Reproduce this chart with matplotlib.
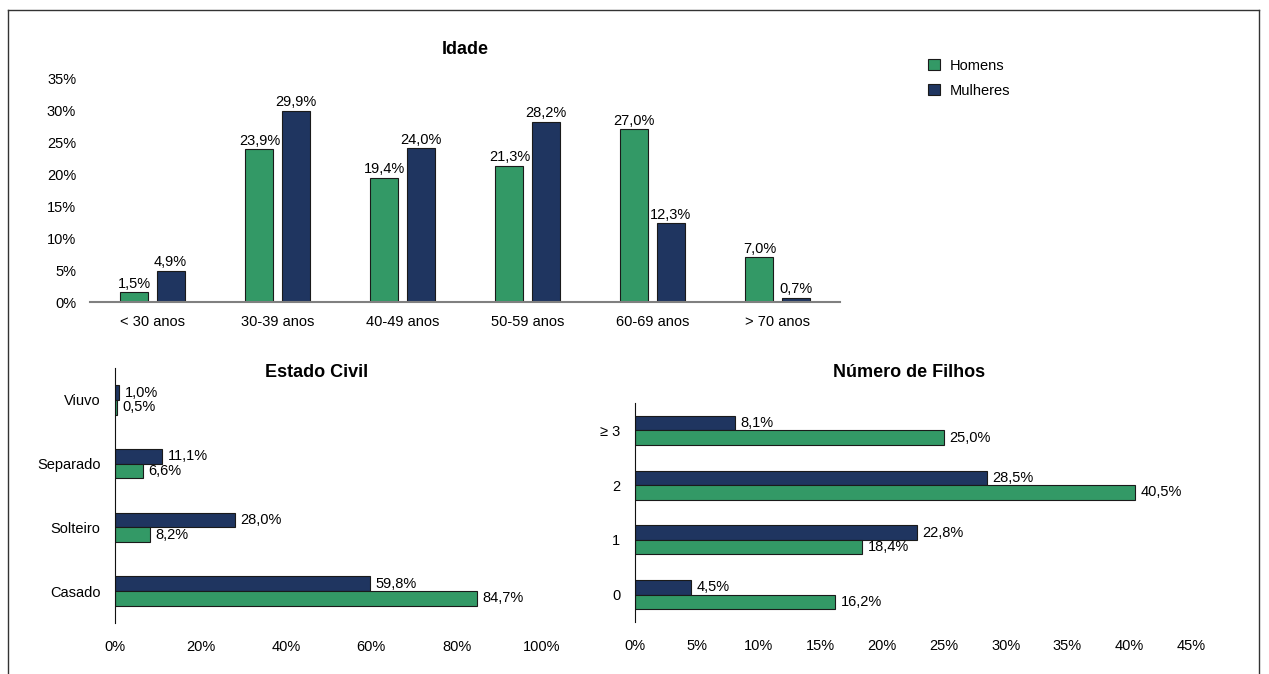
import matplotlib.pyplot as plt
from matplotlib.lines import Line2D
from matplotlib import font_manager

# font: condensed look if available
names = {f.name for f in font_manager.fontManager.ttflist}
if 'Liberation Sans Narrow' in names:
    plt.rcParams['font.family'] = ['Liberation Sans Narrow', 'DejaVu Sans']
else:
    plt.rcParams['font.family'] = ['Liberation Sans', 'DejaVu Sans']
plt.rcParams['font.size'] = 10.5

GREEN = '#339966'
NAVY = '#1f3560'
EDGE = '#1a1a1a'

# data
idade_cats = ['< 30 anos', '30-39 anos', '40-49 anos', '50-59 anos', '60-69 anos', '> 70 anos']
idade_homens = [1.5, 23.9, 19.4, 21.3, 27.0, 7.0]
idade_mulheres = [4.9, 29.9, 24.0, 28.2, 12.3, 0.7]

civil_cats = ['Casado', 'Solteiro', 'Separado', 'Viuvo']
civil_homens = [84.7, 8.2, 6.6, 0.5]
civil_mulheres = [59.8, 28.0, 11.1, 1.0]

filhos_cats = ['0', '1', '2', '≥ 3']
filhos_homens = [16.2, 18.4, 40.5, 25.0]
filhos_mulheres = [4.5, 22.8, 28.5, 8.1]


def fmt(v):
    return f"{v:.1f}%".replace('.', ',')


W, H = 1269, 674
fig = plt.figure(figsize=(W / 100, H / 100), dpi=100)


def px_axes(left, top, right, bottom):
    return fig.add_axes([left / W, 1 - bottom / H, (right - left) / W, (bottom - top) / H])


# outer border (open at the bottom)
for xs, ys in [([8, 8], [0, 10]), ([8, 1259], [10, 10]), ([1259, 1259], [10, 0])]:
    fig.add_artist(Line2D([x / W for x in xs], [1 - y / H if y else 0 for y in ys],
                          color='#333333', lw=1))

# ---- Idade ----
ax1 = px_axes(90, 78, 840, 302)
x = list(range(len(idade_cats)))
bw, off = 0.225, 0.145
b1 = ax1.bar([i - off for i in x], idade_homens, bw, color=GREEN, edgecolor=EDGE, lw=0.8, label='Homens')
b2 = ax1.bar([i + off for i in x], idade_mulheres, bw, color=NAVY, edgecolor=EDGE, lw=0.8, label='Mulheres')
for bars, vals in [(b1, idade_homens), (b2, idade_mulheres)]:
    for b, v in zip(bars, vals):
        ax1.annotate(fmt(v), (b.get_x() + b.get_width() / 2, v), xytext=(0, 1),
                     textcoords='offset points', ha='center', va='bottom')
ax1.set_xlim(-0.5, 5.5)
ax1.set_ylim(0, 35)
ax1.set_yticks(range(0, 36, 5))
ax1.set_yticklabels([f"{t}%" for t in range(0, 36, 5)])
ax1.set_xticks(x)
ax1.set_xticklabels(idade_cats)
for s in ['top', 'right', 'left']:
    ax1.spines[s].set_visible(False)
ax1.spines['bottom'].set_color('#808080')
ax1.spines['bottom'].set_linewidth(1.5)
ax1.tick_params(length=0, axis='both')
ax1.tick_params(axis='x', pad=9)
ax1.tick_params(axis='y', pad=10)
fig.text(465 / W, 1 - 50 / H, 'Idade', ha='center', va='center', fontsize=13, fontweight='bold')
fig.legend(handles=[b1, b2], loc='upper left', bbox_to_anchor=(922 / W, 1 - 53 / H),
           frameon=False, handlelength=0.8, handleheight=0.8, handletextpad=0.7,
           labelspacing=0.75, borderaxespad=0)


# ---- horizontal charts ----
def hchart(box, cats, homens, mulheres, xmax, step, bh, title, tx):
    ax = px_axes(*box)
    y = list(range(len(cats)))
    bm = ax.barh([i + bh / 2 for i in y], mulheres, bh, color=NAVY, edgecolor=EDGE, lw=0.8)
    bg = ax.barh([i - bh / 2 for i in y], homens, bh, color=GREEN, edgecolor=EDGE, lw=0.8)
    for bars, vals in [(bm, mulheres), (bg, homens)]:
        for b, v in zip(bars, vals):
            ax.annotate(fmt(v), (v, b.get_y() + b.get_height() / 2), xytext=(4, 0),
                        textcoords='offset points', ha='left', va='center')
    ax.set_xlim(0, xmax)
    ax.set_ylim(-0.5, len(cats) - 0.5)
    ticks = list(range(0, xmax + 1, step))
    ax.set_xticks(ticks)
    ax.set_xticklabels([f"{t}%" for t in ticks])
    ax.set_yticks(y)
    ax.set_yticklabels(cats)
    for s in ['top', 'right', 'bottom']:
        ax.spines[s].set_visible(False)
    ax.spines['left'].set_color('#111111')
    ax.tick_params(length=0, axis='both')
    ax.tick_params(axis='x', pad=12)
    ax.tick_params(axis='y', pad=10.5)
    fig.text(tx / W, 1 - 373 / H, title, ha='center', va='center', fontsize=13, fontweight='bold')
    return ax


hchart((115, 368, 542, 623), civil_cats, civil_homens, civil_mulheres, 100, 20, 0.23,
       'Estado Civil', 317)
hchart((635, 403, 1191, 622), filhos_cats, filhos_homens, filhos_mulheres, 45, 5, 0.265,
       'Número de Filhos', 909)

fig.savefig('out.png', dpi=100)
